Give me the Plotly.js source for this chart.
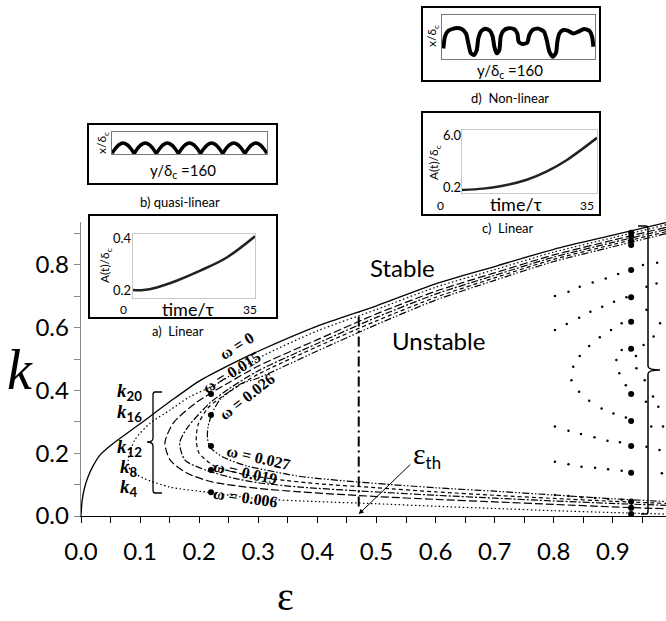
<!DOCTYPE html>
<html><head><meta charset="utf-8">
<script src="https://cdn.plot.ly/plotly-3.0.1.min.js"></script>
<style>html,body{margin:0;padding:0;background:#fff}#c{width:666px;height:621px}</style>
</head><body><div id="c"></div>
<script>
// ---------- main chart data (epsilon, k) ----------
const eps_w0 = [0, 0.002, 0.006, 0.012, 0.02, 0.032, 0.05, 0.075, 0.1, 0.15, 0.2, 0.25, 0.3, 0.4, 0.5, 0.6, 0.7, 0.8, 0.9, 0.99];
const k_w0   = [0, 0.05, 0.09, 0.125, 0.158, 0.194, 0.225, 0.26, 0.294, 0.364, 0.43, 0.48, 0.525, 0.605, 0.67, 0.74, 0.795, 0.85, 0.895, 0.935];

const eps_w006 = [0.99, 0.9, 0.8, 0.7, 0.6, 0.5, 0.4, 0.3, 0.227, 0.184, 0.151, 0.117, 0.091, 0.08, 0.083, 0.105, 0.151, 0.213, 0.3, 0.4, 0.5, 0.6, 0.7, 0.8, 0.9, 0.99];
const k_w006   = [0.928, 0.887, 0.841, 0.785, 0.729, 0.658, 0.59, 0.503, 0.418, 0.38, 0.338, 0.296, 0.242, 0.178, 0.147, 0.121, 0.092, 0.076, 0.055, 0.046, 0.039, 0.031, 0.024, 0.017, 0.011, 0.006];

const eps_w015 = [0.99, 0.9, 0.8, 0.7, 0.6, 0.5, 0.4, 0.3, 0.25, 0.196, 0.156, 0.142, 0.151, 0.179, 0.223, 0.3, 0.371, 0.5, 0.6, 0.7, 0.8, 0.9, 0.99];
const k_w015   = [0.92, 0.879, 0.832, 0.775, 0.716, 0.644, 0.562, 0.478, 0.425, 0.363, 0.296, 0.233, 0.178, 0.137, 0.108, 0.088, 0.077, 0.062, 0.053, 0.045, 0.037, 0.029, 0.023];

const eps_w019 = [0.99, 0.9, 0.8, 0.7, 0.6, 0.5, 0.4, 0.3, 0.25, 0.218, 0.181, 0.167, 0.176, 0.213, 0.26, 0.3, 0.371, 0.47, 0.6, 0.7, 0.8, 0.9, 0.99];
const k_w019   = [0.913, 0.872, 0.825, 0.767, 0.707, 0.633, 0.55, 0.463, 0.405, 0.36, 0.284, 0.233, 0.178, 0.145, 0.12, 0.106, 0.092, 0.08, 0.066, 0.057, 0.048, 0.04, 0.034];

const eps_w026 = [0.99, 0.9, 0.8, 0.7, 0.6, 0.5, 0.4, 0.3, 0.25, 0.215, 0.198, 0.195, 0.2, 0.225, 0.27, 0.33, 0.4, 0.5, 0.6, 0.7, 0.8, 0.9, 0.99];
const k_w026   = [0.906, 0.865, 0.818, 0.759, 0.697, 0.622, 0.54, 0.452, 0.395, 0.345, 0.29, 0.24, 0.2, 0.16, 0.135, 0.117, 0.103, 0.09, 0.077, 0.066, 0.056, 0.047, 0.04];

const eps_w027 = [0.99, 0.9, 0.8, 0.7, 0.6, 0.5, 0.4, 0.3, 0.269, 0.235, 0.222, 0.215, 0.214, 0.218, 0.24, 0.28, 0.33, 0.371, 0.47, 0.6, 0.7, 0.8, 0.9, 0.99];
const k_w027   = [0.9, 0.858, 0.811, 0.751, 0.688, 0.61, 0.526, 0.44, 0.42, 0.37, 0.328, 0.284, 0.25, 0.22, 0.188, 0.16, 0.14, 0.126, 0.108, 0.09, 0.079, 0.067, 0.055, 0.046];

const eps_th = 0.47;
const k_th_line = [0.03, 0.65];

const eps_kdots = [0.22, 0.22, 0.22, 0.22, 0.22];
const k_kdots   = [0.389, 0.322, 0.223, 0.147, 0.076];

const eps_bigdots = [0.931,0.931,0.931,0.931,0.931,0.931,0.931,0.931,0.931,0.931,0.931,0.931,0.931,0.931,0.931];
const k_bigdots   = [0.903, 0.890, 0.877, 0.864, 0.784, 0.697, 0.619, 0.533, 0.389, 0.303, 0.223, 0.138, 0.046, 0.026, 0.006];

// sparse dotted curves near epsilon ~ 0.8-1.0
const eps_sd1 = [0.802, 0.825, 0.844, 0.866, 0.888, 0.909, 0.951, 0.975];
const k_sd1   = [0.701, 0.715, 0.731, 0.744, 0.757, 0.771, 0.800, 0.807];
const eps_sd2 = [0.802, 0.822, 0.843, 0.862, 0.882, 0.902, 0.923, 0.957, 0.974];
const k_sd2   = [0.593, 0.612, 0.632, 0.651, 0.667, 0.683, 0.697, 0.731, 0.741];
const eps_sd3 = [0.915, 0.897, 0.878, 0.860, 0.844, 0.833, 0.830, 0.843, 0.860, 0.881, 0.901, 0.922];
const k_sd3   = [0.614, 0.593, 0.570, 0.542, 0.510, 0.476, 0.433, 0.396, 0.367, 0.343, 0.327, 0.314];
const eps_sd4 = [0.915, 0.906, 0.911, 0.922];
const k_sd4   = [0.529, 0.497, 0.455, 0.417];
const eps_sd5 = [0.802, 0.825, 0.846, 0.869, 0.891, 0.912];
const k_sd5   = [0.285, 0.272, 0.261, 0.251, 0.240, 0.235];
const eps_sd6 = [0.802, 0.825, 0.847, 0.870, 0.892, 0.915];
const k_sd6   = [0.173, 0.165, 0.157, 0.154, 0.149, 0.144];
const eps_sd7 = [0.802, 0.825, 0.847, 0.870, 0.892, 0.915];
const k_sd7   = [0.067, 0.064, 0.060, 0.057, 0.054, 0.052];
const eps_sdR = [0.957, 0.980, 0.969, 0.952, 0.939, 0.940, 0.954, 0.968, 0.977, 0.956, 0.965, 0.985, 0.957, 0.979, 0.983];
const k_sdR   = [0.657, 0.614, 0.572, 0.545, 0.510, 0.471, 0.433, 0.381, 0.348, 0.364, 0.285, 0.285, 0.221, 0.210, 0.136];

// ---------- inset data ----------
// a) Linear : A(t)/delta_c vs time/tau
const t_a = [0, 3, 6.8, 12.5, 19.3, 26.9, 35];
const A_a = [0.2, 0.2, 0.21, 0.236, 0.275, 0.326, 0.408];
// c) Linear
const t_c = [0, 5.5, 9.9, 16.8, 22, 27.1, 35];
const A_c = [0.2, 0.35, 0.6, 1.3, 2.2, 3.4, 5.8];
// b) quasi-linear interface x/delta_c along y/delta_c (0..160)
const y_b = [0, 2.7, 6.9, 11.4, 16.0, 20.1,
             22.9, 25.6, 29.7, 34.3, 38.9, 43.0,
             45.7, 48.5, 52.6, 57.1, 61.7, 65.8,
             68.6, 71.3, 75.4, 80.0, 84.6, 88.7,
             91.4, 94.1, 98.3, 102.9, 107.4, 111.5,
             114.3, 117.0, 121.1, 125.7, 130.3, 134.4,
             137.1, 139.9, 144.0, 148.6, 153.1, 157.3, 160];
const x_b = [0.3, 2.0, 4.0, 4.9, 4.0, 2.0,
             0.3, 2.0, 4.0, 4.9, 4.0, 2.0,
             0.3, 2.0, 4.0, 4.9, 4.0, 2.0,
             0.3, 2.0, 4.0, 4.9, 4.0, 2.0,
             0.3, 2.0, 4.0, 4.9, 4.0, 2.0,
             0.3, 2.0, 4.0, 4.9, 4.0, 2.0,
             0.3, 2.0, 4.0, 4.9, 4.0, 2.0, 0.3];
// d) non-linear interface
const y_d = [1.4, 3.1, 6.6, 13.6, 20.6, 25.1, 27.5, 30.0, 33.5, 36.3, 38.0, 40.5, 45.0, 50.2, 53.0, 54.7, 57.2, 59.9, 61.4, 64.1, 69.4, 75.3, 78.8, 80.2, 84.4, 89.2, 91.3, 94.9, 100.7, 106.7, 109.5, 112.2, 115.8, 119.2, 120.6, 122.7, 126.9, 132.1, 137.3, 142.6, 148.5, 154.1, 156.9, 158.3];
const x_d = [2.4, 5.1, 6.4, 7.0, 6.8, 5.8, 3.6, 1.4, 0.9, 2.0, 4.7, 6.2, 6.9, 6.4, 5.1, 2.8, 1.3, 2.0, 5.1, 6.4, 7.0, 6.8, 5.8, 3.9, 3.4, 3.7, 5.5, 6.6, 6.9, 6.2, 4.3, 1.7, 0.5, 1.4, 3.9, 5.8, 6.6, 6.4, 5.8, 6.2, 6.8, 6.4, 5.1, 2.8];

// ---------- helpers for layout positions (pixels -> paper) ----------
const W = 666, H = 621;
const px = v => v / W;
const py = v => 1 - v / H;

const curve = (x, y, dash, w) => ({x, y, type:'scatter', mode:'lines', xaxis:'x', yaxis:'y',
  line:{color:'#000', width:w||1.2, dash:dash, shape:'spline', smoothing:0.7}, hoverinfo:'skip'});
const dots = (x, y, s) => ({x, y, type:'scatter', mode:'markers', xaxis:'x', yaxis:'y',
  marker:{color:'#000', size:s}, hoverinfo:'skip'});

const traces = [
  curve(eps_w0, k_w0, 'solid', 1.3),
  curve(eps_w006, k_w006, '1.5px,2.5px', 1.2),
  curve(eps_w015, k_w015, '8px,3px', 1.2),
  curve(eps_w019, k_w019, '7px,2px,2px,2px', 1.2),
  curve(eps_w026, k_w026, '4px,3px', 1.2),
  curve(eps_w027, k_w027, '7px,2px,1.5px,2px,1.5px,2px', 1.2),
  {x:[eps_th, eps_th], y:k_th_line, type:'scatter', mode:'lines', xaxis:'x', yaxis:'y',
   line:{color:'#000', width:2, dash:'10px,4px,2px,4px'}, hoverinfo:'skip'},
  dots(eps_sd1, k_sd1, 2.5), dots(eps_sd2, k_sd2, 2.5), dots(eps_sd3, k_sd3, 2.5),
  dots(eps_sd4, k_sd4, 2.5), dots(eps_sd5, k_sd5, 2.5), dots(eps_sd6, k_sd6, 2.5),
  dots(eps_sd7, k_sd7, 2.5), dots(eps_sdR, k_sdR, 2.5),
  dots(eps_kdots, k_kdots, 6),
  dots(eps_bigdots, k_bigdots, 6),
  // insets
  {x:t_a, y:A_a, type:'scatter', mode:'lines', xaxis:'x2', yaxis:'y2', line:{color:'#222', width:2.5, shape:'spline'}, hoverinfo:'skip'},
  {x:y_b, y:x_b, type:'scatter', mode:'lines', xaxis:'x3', yaxis:'y3', line:{color:'#000', width:3.5, shape:'spline', smoothing:0.6}, hoverinfo:'skip'},
  {x:t_c, y:A_c, type:'scatter', mode:'lines', xaxis:'x4', yaxis:'y4', line:{color:'#222', width:2.5, shape:'spline'}, hoverinfo:'skip'},
  {x:y_d, y:x_d, type:'scatter', mode:'lines', xaxis:'x5', yaxis:'y5', line:{color:'#000', width:4, shape:'spline', smoothing:0.6}, hoverinfo:'skip'}
];

const insetAx = (dom, rng, col, anchor) => ({domain:dom, range:rng, anchor:anchor, showgrid:false, zeroline:false,
  showticklabels:false, ticks:'', showline:true, mirror:true, linecolor:col, linewidth:1, fixedrange:true});

const SANS = 'Lato, "Open Sans", sans-serif';
const SERIF = '"Liberation Serif", "DejaVu Serif", serif';

const ann = (x, y, text, size, opts) => Object.assign({xref:'paper', yref:'paper', x:px(x), y:py(y), text:text,
  showarrow:false, xanchor:'center', yanchor:'middle', font:{family:SANS, size:size, color:'#000'}}, opts||{});

const omega = (x, y, txt, ang) => ann(x, y, '<b>ω = ' + txt + '</b>', 16, {textangle:ang, font:{family:SERIF, size:16, color:'#000'}});
const klab = (y, n) => ann(129, y, '<b><i>k</i></b><sub><span style="font-family:Lato"><b>' + n + '</b></span></sub>', 19, {font:{family:SERIF, size:19, color:'#000'}});

const annotations = [
  ann(402, 268, 'Stable', 24),
  ann(438, 340, 'Unstable', 24),
  ann(285, 621, 'ε', 40, {yanchor:'bottom', y:0, font:{family:SERIF, size:40, color:'#000'}}),
  ann(20, 370, '<i>k</i>', 56, {font:{family:SERIF, size:56, color:'#000'}}),
  ann(427, 455, '<span style="font-family:Liberation Serif;font-size:30px">ε</span><sub>th</sub>', 24),
  {xref:'x', yref:'y', x:eps_th, y:0.006, ax:53, ay:-51, axref:'pixel', ayref:'pixel', text:'', showarrow:true,
   arrowhead:2, arrowsize:1, arrowwidth:1, arrowcolor:'#000'},
  omega(237, 345, '0', -32),
  omega(231, 372, '0.015', -32),
  omega(247, 397, '0.026', -38),
  omega(258, 458, '0.027', 13),
  omega(245, 472, '0.019', 12),
  omega(245, 497, '0.006', 8),
  klab(392, '20'), klab(413, '16'), klab(448, '12'), klab(468, '8'), klab(488, '4'),
  // inset a
  ann(105, 266, 'A(t)/δ<sub>c</sub>', 12, {textangle:-90}),
  ann(122, 238, '0.4', 13), ann(122, 290, '0.2', 13),
  ann(123, 309, '0', 12), ann(188, 309, 'time/τ', 18), ann(250, 309, '35', 12),
  ann(178, 331, 'a)  Linear', 13),
  // inset b
  ann(102, 143, 'x/δ<sub>c</sub>', 12, {textangle:-90}),
  ann(183, 171, 'y/δ<sub>c</sub> =160', 15),
  ann(180, 202, 'b) quasi-linear', 13),
  // inset c
  ann(434, 163, 'A(t)/δ<sub>c</sub>', 12, {textangle:-90}),
  ann(452, 135, '6.0', 13), ann(452, 187, '0.2', 13),
  ann(440, 206, '0', 12), ann(516, 204, 'time/τ', 18), ann(587, 206, '35', 12),
  ann(507, 228, 'c)  Linear', 13),
  // inset d
  ann(432, 36, 'x/δ<sub>c</sub>', 12, {textangle:-90}),
  ann(510, 71, 'y/δ<sub>c</sub> =160', 15),
  ann(510, 98, 'd)  Non-linear', 13)
];

const box = (x0, y0, x1, y1) => ({type:'rect', xref:'paper', yref:'paper', x0:px(x0), x1:px(x1), y0:py(y1), y1:py(y0),
  line:{color:'#000', width:2}, fillcolor:'rgba(0,0,0,0)', layer:'above'});

const pathPx = pts => pts.map(([c, x, y]) => c + ' ' + px(x).toFixed(5) + ',' + py(y).toFixed(5)).join(' ');

const shapes = [
  box(89, 215, 277, 318),
  box(88, 124, 277, 184),
  box(422, 112, 600, 215),
  box(422, 7, 600, 81),
  {type:'path', xref:'paper', yref:'paper', line:{color:'#000', width:1.3},
   path: pathPx([['M',162,392],['L',155,392],['Q',153,392],['',153,395],['L',153,438],['Q',153,442],['',147,442],['Q',153,442],['',153,446],['L',153,490],['Q',153,493],['',155,493],['L',162,493]])},
  {type:'path', xref:'paper', yref:'paper', line:{color:'#000', width:1.5},
   path: pathPx([['M',638,226],['L',646,226],['Q',648,226],['',648,229],['L',648,366],['Q',648,370],['',660,370],['Q',648,370],['',648,374],['L',648,511],['Q',648,514],['',646,514],['L',641,514]])}
];

const layout = {
  width:W, height:H, margin:{l:0, r:0, t:0, b:0}, paper_bgcolor:'#fff', plot_bgcolor:'rgba(0,0,0,0)',
  showlegend:false,
  xaxis:{domain:[px(81), 1], range:[0, 0.99], anchor:'y', dtick:0.1, tick0:0, tickformat:'.1f',
    ticks:'outside', ticklen:6, tickcolor:'#000', showline:true, linecolor:'#000', linewidth:1.3,
    showgrid:false, zeroline:false, ticklabelstandoff:8,
    tickfont:{family:SANS, size:24, color:'#000'},
    minor:{dtick:0.05, ticks:'outside', ticklen:6, tickcolor:'#000', showgrid:false}},
  yaxis:{domain:[py(516), py(222)], range:[0, 0.937], anchor:'x', dtick:0.2, tick0:0, tickformat:'.1f',
    ticks:'outside', ticklen:6, tickcolor:'#888', showline:true, linecolor:'#888', linewidth:1.3,
    showgrid:false, zeroline:false,
    tickfont:{family:SANS, size:24, color:'#000'},
    minor:{dtick:0.1, ticks:'outside', ticklen:6, tickcolor:'#888', showgrid:false}},
  xaxis2: insetAx([px(133), px(255)], [0, 35], '#c8c8c8', 'y2'),
  yaxis2: insetAx([py(298), py(234)], [0.169, 0.417], '#c8c8c8', 'x2'),
  xaxis3: insetAx([px(112), px(267)], [0, 160], '#777', 'y3'),
  yaxis3: insetAx([py(154), py(131.5)], [0, 10], '#777', 'x3'),
  xaxis4: insetAx([px(462), px(597)], [0, 35], '#c8c8c8', 'y4'),
  yaxis4: insetAx([py(193), py(130)], [-0.12, 6.64], '#c8c8c8', 'x4'),
  xaxis5: insetAx([px(442), px(595)], [0, 160], '#777', 'y5'),
  yaxis5: insetAx([py(59), py(15)], [0, 10], '#777', 'x5'),
  annotations: annotations,
  shapes: shapes
};

Plotly.newPlot('c', traces, layout, {displayModeBar:false, staticPlot:true});
</script>
</body></html>
